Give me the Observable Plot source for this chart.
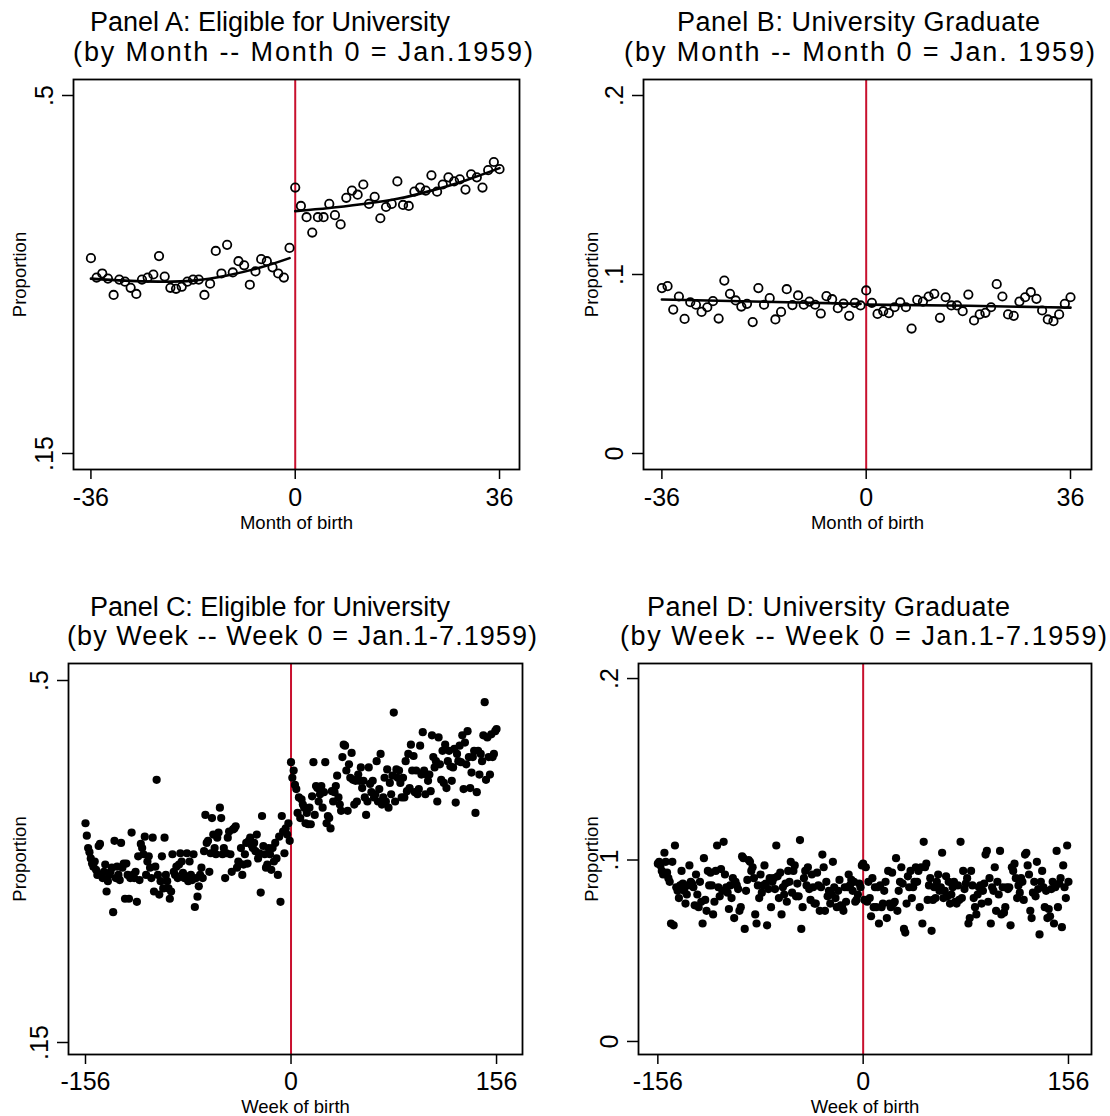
<!DOCTYPE html>
<html><head><meta charset="utf-8">
<script src="https://cdn.jsdelivr.net/npm/d3@7"></script>
<script src="https://cdn.jsdelivr.net/npm/@observablehq/plot@0.6"></script>
<style>
body{margin:0;background:#fff;}
#root{position:relative;width:1110px;height:1116px;overflow:hidden;font-family:"Liberation Sans",Arial,Helvetica,sans-serif;color:#000;}
.t{position:absolute;white-space:nowrap;font-size:27px;line-height:27px;}
.p{position:absolute;}
</style></head><body><div id="root"></div>
<script>
// ---- categories ----
const months = d3.range(-36, 37);   // month of birth, Month 0 = Jan.1959
const weeks = d3.range(-156, 157);  // week of birth, Week 0 = Jan.1-7.1959

// ---- Panel A: Eligible for University, by month ----
const eligibleByMonth = [.341,.322,.326,.321,.305,.320,.318,.312,.306,.320,.322,.325,.343,.323,.312,.311,.313,.318,.320,.320,.305,.316,.348,.326,.354,.327,.338,.334,.315,.328,.340,.338,.332,.326,.322,.351,
  .410,.392,.381,.366,.381,.381,.394,.383,.374,.400,.407,.403,.413,.394,.401,.380,.391,.394,.416,.393,.392,.406,.410,.407,.422,.406,.413,.420,.416,.418,.408,.423,.420,.410,.427,.435,.428];
const fitAMonthsLeft = [-36,-30,-24,-18,-12,-6,-1];
const fitAValuesLeft = [.321,.319,.318,.319,.324,.332,.341];
const fitAMonthsRight = [0,6,12,18,24,30,36];
const fitAValuesRight = [.387,.390,.394,.399,.407,.417,.429];

// ---- Panel B: University Graduate, by month ----
const graduateByMonth = [.0924,.0935,.0804,.0877,.0752,.0845,.0831,.0791,.0817,.0851,.0754,.0966,.0892,.0855,.0821,.0836,.0734,.0924,.0831,.0868,.0749,.0791,.0918,.0829,.0883,.0831,.0849,.0831,.0782,.0879,.0862,.0812,.0838,.0769,.0842,.0827,
  .0911,.0842,.0780,.0795,.0784,.0817,.0845,.0817,.0698,.0858,.0849,.0877,.0892,.0758,.0873,.0827,.0827,.0795,.0888,.0743,.0777,.0786,.0817,.0946,.0877,.0777,.0769,.0849,.0873,.0901,.0864,.0799,.0749,.0739,.0777,.0836,.0873];
const fitBMonthsLeft = [-36,-18,-1];
const fitBValuesLeft = [.0860,.0848,.0836];
const fitBMonthsRight = [0,18,36];
const fitBValuesRight = [.0832,.0825,.0815];

// ---- Panel C: Eligible for University, by week ----
const eligibleByWeek = [
 .362,.350,.338,.334,.328,.323,.320,.325,.317,.312,.340,.342,.312,.309,.315,.322,.296,.306,.312,.315,
 .319,.276,.345,.309,.320,.312,.307,.343,.319,.323,.289,.323,.312,.289,.309,.353,.312,.309,.315,.286,
 .330,.307,.342,.338,.332,.349,.312,.325,.330,.319,.309,.348,.296,.320,.404,.312,.293,.306,.330,.299,
 .348,.312,.306,.299,.289,.296,.332,.315,.312,.320,.309,.322,.333,.325,.314,.309,.311,.333,.306,.325,
 .312,.307,.332,.281,.309,.291,.301,.312,.319,.309,.335,.370,.343,.345,.315,.333,.367,.351,.338,.332,
 .348,.353,.377,.367,.332,.338,.309,.333,.348,.354,.332,.315,.356,.357,.359,.319,.325,.323,.338,.312,
 .322,.332,.343,.323,.345,.348,.341,.338,.343,.335,.351,.328,.333,.295,.369,.340,.332,.319,.322,.338,
 .332,.317,.338,.325,.343,.328,.312,.349,.286,.369,.354,.333,.357,.351,.362,.345,
 .421,.406,.413,.399,.395,.372,.387,.367,.385,.380,.377,.362,.372,.361,.377,.361,.388,.421,.370,.398,
 .396,.383,.390,.398,.377,.392,.421,.362,.369,.367,.357,.393,.383,.392,.398,.408,.387,.380,.374,.426,
 .438,.437,.413,.374,.419,.406,.430,.404,.380,.403,.383,.409,.403,.416,.396,.403,.387,.370,.383,.416,
 .400,.392,.403,.387,.390,.422,.383,.395,.429,.380,.387,.406,.383,.414,.377,.401,.390,.408,.469,.383,
 .414,.406,.413,.401,.387,.406,.387,.422,.393,.429,.396,.438,.413,.427,.392,.413,.390,.395,.437,.409,
 .450,.413,.390,.409,.403,.409,.393,.447,.426,.416,.422,.383,.445,.419,.404,.432,.401,.438,.396,.422,
 .432,.417,.403,.416,.434,.382,.429,.422,.437,.421,.447,.395,.440,.419,.451,.426,.396,.411,.426,.432,
 .372,.392,.432,.409,.429,.422,.447,.479,.404,.445,.426,.409,.448,.426,.429,.451,.453];

// ---- Panel D: University Graduate, by week ----
const graduateByWeek = [
 .098,.099,.097,.094,.092,.104,.099,.093,.090,.088,.065,.099,.064,.108,.085,.083,.079,.086,.094,.087,
 .083,.076,.081,.086,.097,.088,.087,.085,.075,.092,.081,.074,.088,.077,.065,.101,.078,.072,.094,.086,
 .093,.086,.070,.077,.094,.108,.085,.080,.095,.083,.110,.092,.085,.082,.073,.086,.079,.090,.068,.088,
 .086,.084,.072,.074,.102,.101,.062,.083,.089,.100,.099,.094,.096,.090,.070,.065,.086,.079,.092,.082,
 .086,.097,.087,.064,.084,.090,.074,.088,.090,.084,.108,.091,.079,.093,.070,.085,.081,.087,.077,.094,
 .088,.099,.082,.094,.097,.080,.087,.080,.111,.062,.074,.090,.094,.086,.096,.084,.078,.092,.085,.076,
 .076,.093,.086,.072,.085,.103,.096,.072,.088,.080,.083,.076,.081,.099,.085,.079,.074,.083,.089,.075,
 .074,.072,.085,.077,.085,.092,.086,.089,.083,.088,.077,.078,.081,.087,.085,.097,
 .098,.078,.096,.077,.088,.079,.069,.090,.074,.085,.074,.085,.065,.086,.074,.076,.083,.088,.068,.094,
 .076,.074,.093,.076,.077,.101,.072,.083,.088,.096,.087,.062,.060,.076,.091,.085,.094,.079,.085,.088,
 .096,.088,.094,.074,.096,.065,.110,.096,.098,.078,.086,.090,.061,.078,.085,.079,.088,.092,.083,.085,
 .104,.079,.083,.091,.080,.088,.076,.081,.085,.088,.077,.076,.086,.078,.110,.079,.094,.084,.087,.090,
 .065,.068,.094,.086,.079,.074,.070,.081,.085,.086,.076,.083,.087,.103,.105,.077,.090,.065,.085,.083,
 .096,.072,.088,.081,.105,.070,.085,.071,.074,.085,.084,.085,.064,.096,.094,.098,.090,.079,.086,.082,
 .090,.088,.078,.103,.104,.097,.092,.072,.068,.082,.088,.080,.099,.084,.059,.088,.094,.085,.074,.083,
 .068,.073,.069,.084,.088,.065,.085,.105,.074,.087,.090,.063,.097,.085,.079,.108,.088];

// ---- tick labels & titles ----
const monthTicks = [-36, 0, 36];
const weekTicks = [-156, 0, 156];
const eligibleTicks = [.15, .5];
const graduateTicks = [0, .1, .2];
const titlesA = ["Panel A: Eligible for University", "(by Month -- Month 0 = Jan.1959)"];
const titlesB = ["Panel B: University Graduate", "(by Month -- Month 0 = Jan. 1959)"];
const titlesC = ["Panel C: Eligible for University", "(by Week -- Week 0 = Jan.1-7.1959)"];
const titlesD = ["Panel D: University Graduate", "(by Week -- Week 0 = Jan.1-7.1959)"];

const root = document.getElementById("root");
const fmt = d => d === 0 ? "0" : String(d).replace(/^0\./, ".").replace(/^-0\./, "-.");

// title line: spread between x0 and x1 (measured text extent), baseline y
function addTitle(text, x0, x1, baseline) {
  const fs = 27;
  const div = document.createElement("div");
  div.className = "t";
  div.textContent = text;
  div.style.left = x0 + "px";
  div.style.top = (baseline - 0.8465 * fs) + "px";
  root.appendChild(div);
  const w = div.getBoundingClientRect().width;
  const n = text.length - 1;
  const ls = ((x1 - x0) - w) / n;
  div.style.letterSpacing = ls + "px";
}

function panel(cfg) {
  const pts = cfg.x.map((x, i) => ({x, y: cfg.y[i]}));
  const marks = [
    Plot.ruleX([0], {stroke: "#c8102e", strokeWidth: 2})
  ];
  if (cfg.fits) for (const f of cfg.fits) {
    marks.push(Plot.line(f.x.map((x, i) => ({x, y: f.y[i]})), {x: "x", y: "y", curve: "natural", stroke: "#000", strokeWidth: 2.6}));
  }
  marks.push(Plot.dot(pts, cfg.hollow
    ? {x: "x", y: "y", r: 4.2, stroke: "#000", strokeWidth: 1.8, fill: "none"}
    : {x: "x", y: "y", r: 4.1, fill: "#000", stroke: "none"}));
  marks.push(
    Plot.frame({stroke: "#000", strokeWidth: 1.8}),
    Plot.axisX({ticks: cfg.xTicks, tickSize: 10, tickPadding: cfg.xPad, fontSize: 25, tickFormat: fmt, label: null, strokeWidth: 1.5}),
    Plot.axisY({ticks: cfg.yTicks, tickSize: 11, tickPadding: 10, tickRotate: -90, fontSize: 25, tickFormat: fmt, label: null, strokeWidth: 1.5}),
    Plot.text([cfg.xLabel], {text: d => d, frameAnchor: "bottom", dy: cfg.xLabelDy, lineAnchor: "bottom", textAnchor: "middle", fontSize: 18.5}),
    Plot.text(["Proportion"], {text: d => d, frameAnchor: "left", dx: cfg.yLabelDx, rotate: -90, lineAnchor: "bottom", textAnchor: "middle", fontSize: 18.5})
  );
  const svg = Plot.plot({
    width: cfg.width, height: cfg.height,
    marginLeft: cfg.mL, marginRight: cfg.mR, marginTop: cfg.mT, marginBottom: cfg.mB,
    x: {domain: cfg.xDomain},
    y: {domain: cfg.yDomain},
    style: {fontFamily: "'Liberation Sans', Arial, Helvetica, sans-serif", color: "#000", background: "transparent", overflow: "visible"},
    marks
  });
  const wrap = document.createElement("div");
  wrap.className = "p";
  wrap.style.left = cfg.left + "px";
  wrap.style.top = cfg.top + "px";
  wrap.appendChild(svg);
  root.appendChild(wrap);
}

// Panel A
addTitle(titlesA[0], 90, 450, 32); addTitle(titlesA[1], 73, 533, 62);
panel({x: months, y: eligibleByMonth, hollow: true,
  fits: [{x: fitAMonthsLeft, y: fitAValuesLeft}, {x: fitAMonthsRight, y: fitAValuesRight}],
  xDomain: [-39.07, 39.52], yDomain: [.13436, .51564], xTicks: monthTicks, yTicks: eligibleTicks,
  xLabel: "Month of birth", xLabelDy: 59, yLabelDx: -48, xPad: 9,
  left: 0, top: 60, width: 555, height: 480, mL: 73, mR: 36, mT: 19, mB: 71});
// Panel B
addTitle(titlesB[0], 677, 1040, 32); addTitle(titlesB[1], 624, 1095, 62);
panel({x: months, y: graduateByMonth, hollow: true,
  fits: [{x: fitBMonthsLeft, y: fitBValuesLeft}, {x: fitBMonthsRight, y: fitBValuesRight}],
  xDomain: [-39.24, 39.70], yDomain: [-.00894, .20894], xTicks: monthTicks, yTicks: graduateTicks,
  xLabel: "Month of birth", xLabelDy: 59, yLabelDx: -46, xPad: 9,
  left: 555, top: 60, width: 555, height: 480, mL: 88, mR: 19, mT: 19, mB: 71});
// Panel C
addTitle(titlesC[0], 90, 450, 617); addTitle(titlesC[1], 67, 537, 646);
panel({x: weeks, y: eligibleByWeek, hollow: false,
  xDomain: [-168.9, 175.7], yDomain: [.1384, .51644], xTicks: weekTicks, yTicks: eligibleTicks,
  xLabel: "Week of birth", xLabelDy: 58, yLabelDx: -43, xPad: 8,
  left: 0, top: 650, width: 555, height: 466, mL: 68, mR: 33, mT: 13, mB: 62});
// Panel D
addTitle(titlesD[0], 647, 1010, 617); addTitle(titlesD[1], 620, 1107, 646);
panel({x: weeks, y: graduateByWeek, hollow: false,
  xDomain: [-170.7, 173.5], yDomain: [-.00718, .20829], xTicks: weekTicks, yTicks: graduateTicks,
  xLabel: "Week of birth", xLabelDy: 58, yLabelDx: -41, xPad: 8,
  left: 555, top: 650, width: 555, height: 466, mL: 83, mR: 19, mT: 13, mB: 62});
</script></body></html>
